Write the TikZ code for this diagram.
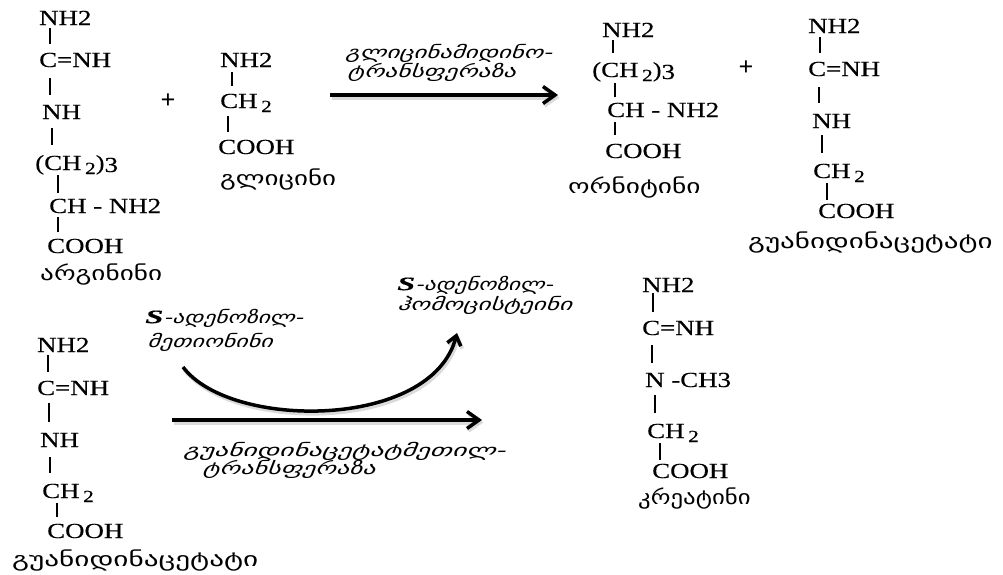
\documentclass[tikz,border=0pt]{standalone}
\usepackage{graphicx}
\usepackage{fontspec}
\setmainfont{Liberation Serif}
\newfontfamily\chemf[FakeStretch=1.25,FakeBold=0.3]{Liberation Serif}
\newfontfamily\geof{DejaVu Sans}
\newfontfamily\geoit[FakeSlant=0.25]{DejaVu Sans}
\usetikzlibrary{arrows.meta}
\newcommand{\sbt}{\,\raisebox{-4pt}{\fontsize{17}{17}\selectfont 2}}
\newcommand{\gs}[2]{\scalebox{#1}[1]{#2}}
\newcommand{\sS}{{\chemf\bfseries\itshape\fontsize{19}{19}\selectfont S}}
\begin{document}
\begin{tikzpicture}[x=1pt,y=-1pt,
  chem/.style={font=\chemf\fontsize{21.5}{24}\selectfont, inner sep=0pt, anchor=base west},
  geo/.style={font=\geof\fontsize{20}{22}\selectfont, inner sep=0pt, anchor=west},
  geoi/.style={font=\geoit\fontsize{17}{19}\selectfont, inner sep=0pt, anchor=west},
  bond/.style={line width=1.3pt},
  rarrow/.style={line width=3.5pt, -{Straight Barb[length=12pt,width=17pt,line width=3.5pt]}},
  rshadow/.style={line width=4pt, gray!40, opacity=0.7, -{Straight Barb[length=12pt,width=17pt,line width=3.5pt]}},
  carrow/.style={line width=3.5pt, -{Straight Barb[length=9pt,width=14pt,line width=3.5pt]}},
  cshadow/.style={line width=4pt, gray!40, opacity=0.7, -{Straight Barb[length=9pt,width=14pt,line width=3.5pt]}},
  plus/.style={font=\fontsize{26}{26}\selectfont\bfseries, inner sep=0pt}]
\useasboundingbox (0,0) rectangle (1003,574);
\fill[white] (0,0) rectangle (1003,574);

% ---------- arginine ----------
\node[chem] (a1) at (39,25) {NH2};
\node[chem] (a2) at (39,67) {C=NH};
\node[chem] (a3) at (42,119) {NH};
\node[chem] (a4) at (35,170) {(CH\sbt)\raisebox{-2pt}{3}};
\node[chem] (a5) at (49,213) {CH - NH2};
\node[chem] (a6) at (47,253) {COOH};
\node[geo] (a7) at (40,275) {\gs{1.36}{არგინინი}};
\draw[bond] (50,28) -- (50,44);
\draw[bond] (50,78) -- (50,95);
\draw[bond] (52,128) -- (52,145);
\draw[bond] (58,175) -- (58,193);
\draw[bond] (58,217) -- (58,232);

\node[plus] (p1) at (168,101) {+};

% ---------- glycine ----------
\node[chem] (g1) at (220,67) {NH2};
\node[chem] (g2) at (220,108) {CH\sbt};
\node[chem] (g3) at (218,154) {COOH};
\node[geo] (g4) at (220,180) {\gs{1.35}{გლიცინი}};
\draw[bond] (232,72) -- (232,86);
\draw[bond] (228,116) -- (228,132);

% ---------- arrow 1 ----------
\coordinate (r1s) at (330,95);
\coordinate (r1e) at (558,95);
\draw[rshadow] ([shift={(1.5,2.5)}]r1s) -- ([shift={(1.5,2.5)}]r1e);
\draw[rarrow] (r1s) -- (r1e);
\node[geoi] (e1) at (345,53) {\gs{1.46}{გლიცინამიდინო-}};
\node[geoi] (e2) at (347,72) {\gs{1.49}{ტრანსფერაზა}};

% ---------- ornithine ----------
\node[chem] (o1) at (602,37) {NH2};
\node[chem] (o2) at (592,77) {(CH\sbt)\raisebox{-2pt}{3}};
\node[chem] (o3) at (607,117) {CH - NH2};
\node[chem] (o4) at (605,158) {COOH};
\node[geo] (o5) at (568,188) {\gs{1.37}{ორნიტინი}};
\draw[bond] (613,40) -- (613,53);
\draw[bond] (615,83) -- (615,97);
\draw[bond] (615,122) -- (615,135);

\node[plus] (p2) at (746,68) {+};

% ---------- guanidinoacetate (top right) ----------
\node[chem] (t1) at (808,33) {NH2};
\node[chem] (t2) at (808,76) {C=NH};
\node[chem] (t3) at (812,128) {NH};
\node[chem] (t4) at (813,178) {CH\sbt};
\node[chem] (t5) at (818,218) {COOH};
\node[geo] (t6) at (748,243) {\gs{1.45}{გუანიდინაცეტატი}};
\draw[bond] (820,37) -- (820,53);
\draw[bond] (819,87) -- (819,103);
\draw[bond] (822,135) -- (822,153);
\draw[bond] (827,183) -- (827,200);

% ---------- guanidinoacetate (bottom left) ----------
\node[chem] (b1) at (37,352) {NH2};
\node[chem] (b2) at (37,395) {C=NH};
\node[chem] (b3) at (40,447) {NH};
\node[chem] (b4) at (42,498) {CH\sbt};
\node[chem] (b5) at (47,538) {COOH};
\node[geo] (b6) at (12,561) {\gs{1.46}{გუანიდინაცეტატი}};
\draw[bond] (48,355) -- (48,372);
\draw[bond] (49,403) -- (49,422);
\draw[bond] (50,457) -- (50,473);
\draw[bond] (57,503) -- (57,517);

% ---------- SAM / SAH ----------
\node[geoi] (s1) at (145,318) {\gs{1.38}{\sS-ადენოზილ-}};
\node[geoi] (s2) at (147,342) {\gs{1.41}{მეთიონინი}};
\node[geoi] (h1) at (397,285) {\gs{1.36}{\sS-ადენოზილ-}};
\node[geoi] (h2) at (397,305) {\gs{1.48}{ჰომოცისტეინი}};

\coordinate (c1s) at (183,367);
\coordinate (c1e) at (457,333);
\draw[cshadow] ([shift={(1.5,2.5)}]c1s) .. controls (231.5,432.5) and (433.5,432.5) .. ([shift={(1.5,2.5)}]c1e);
\draw[carrow] (c1s) .. controls (230,430) and (432,430) .. (c1e);

\coordinate (r2s) at (172,420);
\coordinate (r2e) at (482,420);
\draw[rshadow] ([shift={(1.5,2.5)}]r2s) -- ([shift={(1.5,2.5)}]r2e);
\draw[rarrow] (r2s) -- (r2e);
\node[geoi] (e3) at (183,451) {\gs{1.62}{გუანიდინაცეტატმეთილ-}};
\node[geoi] (e4) at (202,469) {\gs{1.53}{ტრანსფერაზა}};

% ---------- creatine ----------
\node[chem] (k1) at (642,292) {NH2};
\node[chem] (k2) at (642,335) {C=NH};
\node[chem] (k3) at (645,387) {N -CH3};
\node[chem] (k4) at (647,438) {CH\sbt};
\node[chem] (k5) at (652,478) {COOH};
\node[geo] (k6) at (638,499) {\gs{1.24}{კრეატინი}};
\draw[bond] (653,293) -- (653,312);
\draw[bond] (652,345) -- (652,363);
\draw[bond] (655,395) -- (655,413);
\draw[bond] (660,443) -- (660,460);
\end{tikzpicture}
\end{document}
